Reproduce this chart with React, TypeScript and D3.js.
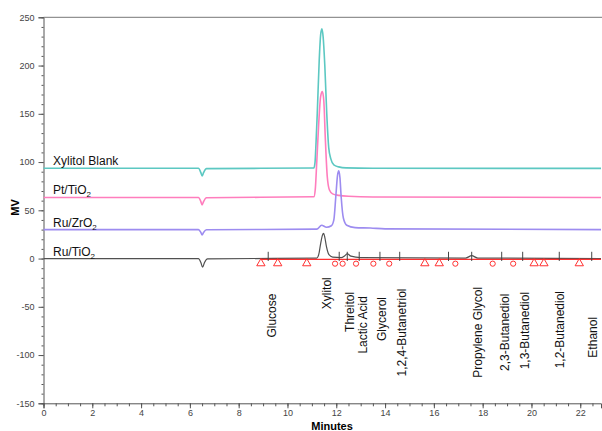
import React, { useRef, useEffect } from 'react';
import * as d3 from 'd3';

// chromatogram traces, minutes vs MV
const blankT = [0, 6.35, 6.45, 6.5, 6.56, 6.68, 11.08, 11.13, 11.17, 11.22, 11.3, 11.36, 11.41, 11.46, 11.53, 11.61, 11.69, 11.78, 11.9, 12.1, 12.4, 13.5, 22.85];
const blankV = [93.5, 93.5, 89, 85.5, 89, 93.2, 93.8, 100, 120, 150, 205, 232, 238, 230, 200, 150, 115, 103, 97, 95, 94, 93.6, 93.4];

const ptT = [0, 6.35, 6.45, 6.5, 6.56, 6.68, 11.08, 11.14, 11.2, 11.28, 11.36, 11.43, 11.49, 11.55, 11.63, 11.72, 11.85, 12.1, 12.5, 13.5, 22.85];
const ptV = [63.3, 63.3, 59, 55.5, 59, 63, 64, 72, 100, 140, 168, 173, 163, 125, 85, 71, 67, 65.5, 64.5, 63.8, 63.3];

const ruZrT = [0, 6.35, 6.45, 6.5, 6.56, 6.68, 11.2, 11.4, 11.6, 11.8, 11.9, 11.98, 12.05, 12.1, 12.15, 12.2, 12.29, 12.43, 12.77, 13.4, 14, 22.85];
const ruZrV = [30, 30, 27, 24.5, 27, 29.8, 30.5, 34.5, 32.5, 34, 40, 64, 86, 91, 84, 64, 42, 34.5, 32, 31.6, 30.8, 30];

const ruTiT = [0, 6.35, 6.45, 6.52, 6.6, 6.72, 11.2, 11.28, 11.36, 11.43, 11.48, 11.53, 11.6, 11.7, 11.85, 12.2, 12.35, 12.45, 12.6, 13, 17.3, 17.55, 17.8, 22.85];
const ruTiV = [0, 0, -4, -9, -4, -0.3, 0.5, 4, 15.5, 24, 26, 22, 12, 4, 1.5, 1, 3, 5, 2.5, 1, 0.5, 3, 0.5, 0];

const seriesNames = ['Xylitol Blank', 'Pt/TiO2', 'Ru/ZrO2', 'Ru/TiO2'];
const seriesBase = [93.5, 63.3, 30, 0];
const seriesColors = ['#5cc8c2', '#ff7dbd', '#9d8cf0', '#505050'];

// integration marks on the Ru/TiO2 trace
const baselineStart = 8.9;
const baselineEnd = 22.85;
const triangleTimes = [8.91, 9.6, 10.79, 15.63, 16.22, 20.11, 20.51, 21.96];
const circleTimes = [11.95, 12.26, 12.81, 13.52, 14.17, 16.88, 18.41, 19.25];
const tickTimes = [9.21, 12.12, 12.45, 12.94, 13.79, 14.6, 16.6, 17.55, 18.78, 19.64, 21.14, 22.47];

const compounds = ['Glucose', 'Xylitol', 'Threitol', 'Lactic Acid', 'Glycerol', '1,2,4-Butanetriol', 'Propylene Glycol', '2,3-Butanediol', '1,3-Butanediol', '1,2-Butanediol', 'Ethanol'];
const compoundTimes = [9.35, 11.6, 12.56, 13.1, 13.86, 14.68, 17.78, 18.89, 19.73, 21.17, 22.53];
const compoundTop = [-36.3, -19.4, -34.6, -39, -39.8, -31, -29.4, -36.3, -34.6, -33.6, -60.5];

const xTicks = d3.range(0, 23, 2);
const yTicks = d3.range(-150, 251, 50);

function App() {
  const ref = useRef<SVGSVGElement>(null);

  useEffect(() => {
    const W = 602, H = 431;
    const svg = d3.select(ref.current);
    svg.selectAll('*').remove();
    svg.attr('width', W).attr('height', H);

    const x = d3.scaleLinear().domain([0, 22.85]).range([43.5, 601]);
    const y = d3.scaleLinear().domain([-150, 250]).range([403.3, 17.3]);
    const font = 'Liberation Sans, Arial, sans-serif';

    svg.append('rect').attr('width', W).attr('height', H).attr('fill', '#fff');

    // frame
    svg.append('line')
      .attr('x1', x(0)).attr('x2', W).attr('y1', y(250)).attr('y2', y(250))
      .attr('stroke', '#777').attr('stroke-width', 1);

    const yAxis = svg.append('g')
      .attr('transform', `translate(${x(0)},0)`)
      .call(d3.axisLeft(y).tickValues(d3.range(-150, 251, 10)).tickSize(2).tickFormat(() => ''));
    yAxis.select('.domain').remove();
    yAxis.selectAll('line').attr('stroke', '#555');
    const yMajor = svg.append('g')
      .attr('transform', `translate(${x(0)},0)`)
      .call(d3.axisLeft(y).tickValues(yTicks).tickSize(5).tickPadding(4).tickFormat(d => String(d)));
    yMajor.select('.domain').attr('stroke', '#555');
    yMajor.selectAll('line').attr('stroke', '#555');
    yMajor.selectAll('text').attr('font-family', font).attr('font-size', 9).attr('fill', '#444');

    const xAxis = svg.append('g')
      .attr('transform', `translate(0,${y(-150)})`)
      .call(d3.axisBottom(x).tickValues(d3.range(0, 22.81, 0.5)).tickSize(3).tickFormat(() => ''));
    xAxis.select('.domain').remove();
    xAxis.selectAll('line').attr('stroke', '#555');
    const xMajor = svg.append('g')
      .attr('transform', `translate(0,${y(-150)})`)
      .call(d3.axisBottom(x).tickValues(xTicks).tickSize(5).tickPadding(1).tickFormat(d => String(d)));
    xMajor.select('.domain').attr('stroke', '#555');
    xMajor.selectAll('line').attr('stroke', '#555');
    xMajor.selectAll('text').attr('font-family', font).attr('font-size', 9).attr('fill', '#444');

    svg.append('text')
      .attr('x', 332).attr('y', 430)
      .attr('text-anchor', 'middle')
      .attr('font-family', font).attr('font-size', 11).attr('font-weight', 'bold')
      .text('Minutes');

    svg.append('text')
      .attr('transform', `translate(19,${y(53)}) rotate(-90)`)
      .attr('text-anchor', 'middle')
      .attr('font-family', font).attr('font-size', 11).attr('font-weight', 'bold')
      .text('MV');

    // traces
    const traces = [
      blankT.map((t, i) => [t, blankV[i]]),
      ptT.map((t, i) => [t, ptV[i]]),
      ruZrT.map((t, i) => [t, ruZrV[i]]),
      ruTiT.map((t, i) => [t, ruTiV[i]]),
    ];
    const line = d3.line<number[]>()
      .x(d => x(d[0]))
      .y(d => y(d[1]))
      .curve(d3.curveMonotoneX);

    traces.forEach((tr, i) => {
      svg.append('path')
        .datum(tr)
        .attr('fill', 'none')
        .attr('stroke', seriesColors[i])
        .attr('stroke-width', i === 3 ? 1.2 : 1.6)
        .attr('d', line);
    });

    // legend labels on the baselines
    seriesNames.forEach((name, i) => {
      const t = svg.append('text')
        .attr('x', 53).attr('y', y(seriesBase[i]) - 3)
        .attr('font-family', font).attr('font-size', 12).attr('fill', '#111');
      const m = name.match(/^(.*?)(\d)$/);
      if (m) {
        t.append('tspan').text(m[1]);
        t.append('tspan').attr('font-size', 8).attr('dy', 3).text(m[2]);
      } else {
        t.text(name);
      }
    });

    // integration baseline + markers
    const red = '#ff3030';
    svg.append('line')
      .attr('x1', x(baselineStart)).attr('x2', x(baselineEnd))
      .attr('y1', y(-0.8)).attr('y2', y(-0.8))
      .attr('stroke', red).attr('stroke-width', 1.2);

    svg.selectAll('.tick-mark')
      .data(tickTimes)
      .enter().append('line')
      .attr('x1', d => x(d)).attr('x2', d => x(d))
      .attr('y1', y(7)).attr('y2', y(-2.5))
      .attr('stroke', '#444').attr('stroke-width', 1);

    const tri = d3.symbol().type(d3.symbolTriangle).size(30);
    svg.selectAll('.tri')
      .data(triangleTimes)
      .enter().append('path')
      .attr('d', tri)
      .attr('transform', d => `translate(${x(d)},${y(-5)})`)
      .attr('fill', 'none').attr('stroke', red).attr('stroke-width', 1);

    svg.selectAll('.circ')
      .data(circleTimes)
      .enter().append('circle')
      .attr('cx', d => x(d)).attr('cy', y(-5.3))
      .attr('r', 2.6)
      .attr('fill', 'none').attr('stroke', red).attr('stroke-width', 1);

    // compound names
    compounds.forEach((c, i) => {
      svg.append('text')
        .attr('transform', `translate(${x(compoundTimes[i])},${y(compoundTop[i])}) rotate(-90)`)
        .attr('text-anchor', 'end')
        .attr('dy', '0.35em')
        .attr('font-family', font).attr('font-size', 12).attr('fill', '#111')
        .text(c);
    });
  }, []);

  return <svg ref={ref} style={{ position: 'absolute', left: 0, top: 0 }}></svg>;
}

export default App;
